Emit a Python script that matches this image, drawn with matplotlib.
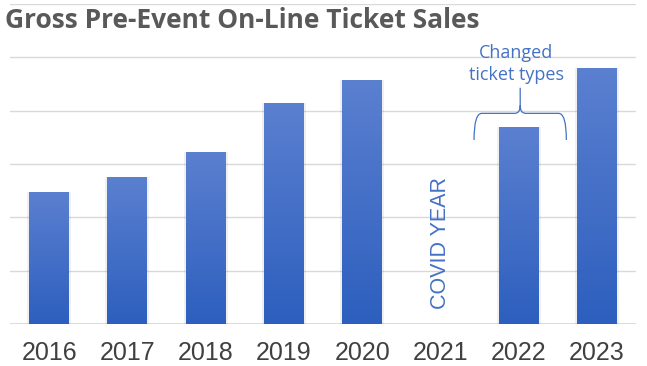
import numpy as np
import matplotlib.pyplot as plt
from matplotlib.path import Path
from matplotlib.patches import PathPatch
from matplotlib.colors import LinearSegmentedColormap

years = ['2016', '2017', '2018', '2019', '2020', '2021', '2022', '2023']
sales = [2.48, 2.76, 3.23, 4.15, 4.58, 0.0, 3.70, 4.80]

fig = plt.figure(figsize=(6.47, 3.66), dpi=100)
ax = fig.add_axes([0.0155, 0.1148, 0.9675, 0.8742])
ax.set_xlim(-0.5, 7.5)
ax.set_ylim(0, 6)

# gridlines
for g in range(1, 7):
    ax.axhline(g, color='#d9d9d9', lw=1, zorder=0)
ax.axhline(0, color='#d9d9d9', lw=1.3, zorder=0)

# bars with vertical gradient
cmap = LinearSegmentedColormap.from_list('blu', ['#2d5fbe', '#5b80d0'])
grad = np.linspace(0, 1, 256).reshape(-1, 1)
x = np.arange(len(years))
bars = ax.bar(x, sales, width=0.51, color='none', edgecolor='none', zorder=2)
for b, v in zip(bars, sales):
    if v <= 0:
        continue
    # soft shadow
    ax.bar(b.get_x() + b.get_width() / 2, v, width=0.56, color='#000000',
           alpha=0.06, zorder=1.5)
    im = ax.imshow(grad, cmap=cmap, aspect='auto', origin='lower',
                   extent=[b.get_x(), b.get_x() + b.get_width(), 0, v],
                   zorder=2)
    im.set_clip_path(b)

ax.set_xticks(x)
ax.set_xticklabels(years, fontsize=18, color='#404040', family='Liberation Sans')
ax.tick_params(axis='x', length=0, pad=12)
ax.set_yticks([])
for s in ax.spines.values():
    s.set_visible(False)

# covid note
ax.text(5, 1.52, 'COVID YEAR', rotation=90, ha='center', va='center',
        fontsize=15.5, color='#4472c4', family='Liberation Sans')

# brace over 2022
x0, x1, xm = 5.43, 6.61, 6.02
yb, yh, yt = 3.45, 3.95, 4.43
verts = [(x0, yb), (x0, yh), (x0 + 0.1, yh), (xm - 0.07, yh), (xm, yh),
         (xm, yh + 0.15), (xm, yt),
         (xm, yh + 0.15), (xm, yh), (xm + 0.07, yh), (x1 - 0.1, yh),
         (x1, yh), (x1, yb)]
codes = [Path.MOVETO, Path.CURVE3, Path.CURVE3, Path.LINETO, Path.CURVE3,
         Path.CURVE3, Path.LINETO,
         Path.MOVETO, Path.CURVE3, Path.CURVE3, Path.LINETO,
         Path.CURVE3, Path.CURVE3]
ax.add_patch(PathPatch(Path(verts, codes), fill=False, edgecolor='#4472c4',
                       lw=0.9, zorder=3))
ax.text(5.97, 4.87, 'Changed\nticket types', ha='center', va='center',
        fontsize=13, color='#4472c4', family='Open Sans', linespacing=1.3)

fig.text(0.008, 0.945, 'Gross Pre-Event On-Line Ticket Sales', fontsize=19,
         fontweight='bold', color='#595959', family='Open Sans',
         ha='left', va='center')

fig.savefig('out.png', dpi=100)
